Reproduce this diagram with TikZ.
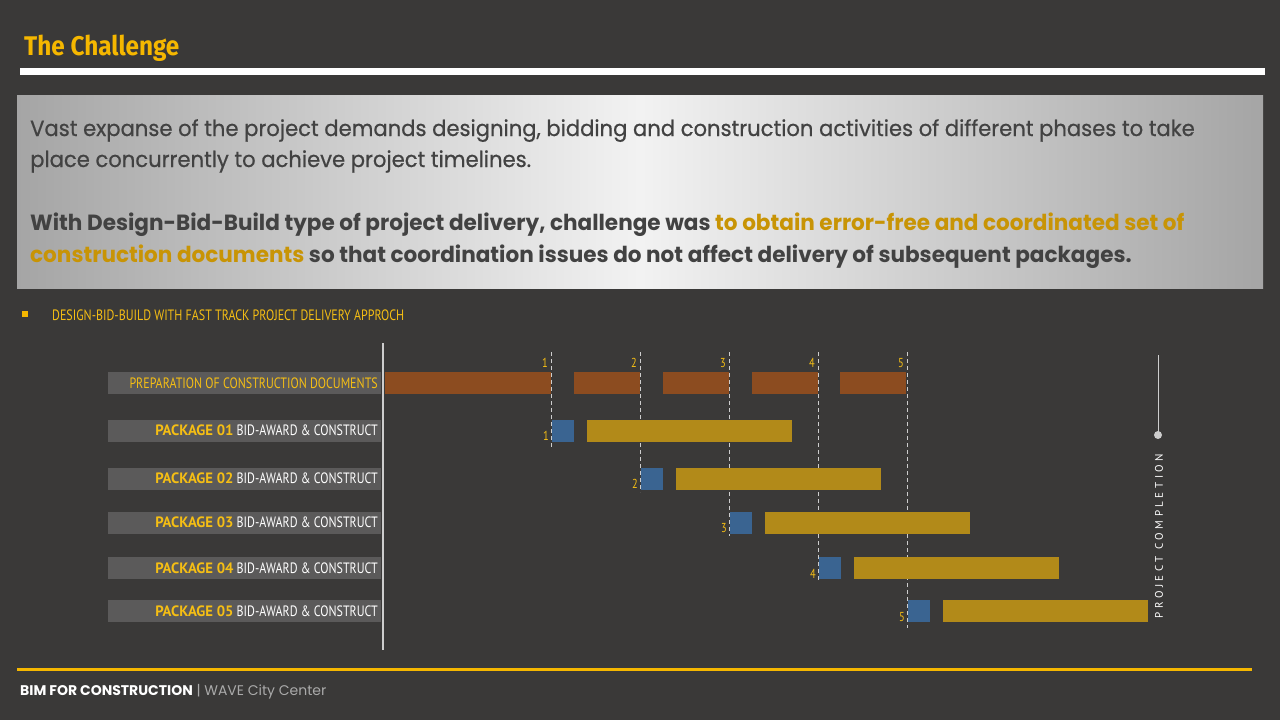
\documentclass[tikz,border=0pt]{standalone}
\usepackage{fontspec}
\setmainfont{Poppins}
\newfontfamily\titlefont[FakeStretch=0.9]{Fira Sans}
\newfontfamily\bodyfont[FakeStretch=0.96,FakeBold=0.6]{Poppins}
\newfontfamily\bodybold[FakeStretch=0.98]{Poppins}
\newfontfamily\condfont[FakeStretch=0.8]{PT Sans}
\newfontfamily\condbold[FakeStretch=0.98]{PT Sans}
\newfontfamily\spacedfont[LetterSpace=32]{PT Sans}
\newfontfamily\footfont{Poppins}
\definecolor{bg}{RGB}{58,57,56}
\definecolor{accent}{RGB}{245,183,0}
\definecolor{labelbox}{RGB}{91,90,90}
\definecolor{labeltxt}{RGB}{245,190,20}
\definecolor{docbar}{RGB}{140,76,32}
\definecolor{bidbar}{RGB}{58,100,145}
\definecolor{buildbar}{RGB}{178,138,25}
\definecolor{guide}{RGB}{205,205,205}
\definecolor{boxedge}{RGB}{165,165,165}
\definecolor{boxmid}{RGB}{242,242,242}
\definecolor{bodytxt}{RGB}{66,66,66}
\definecolor{hilite}{RGB}{200,148,5}
\definecolor{footgray}{RGB}{170,170,170}
\tikzset{
  rowlabel/.style={fill=labelbox, inner sep=0pt, minimum width=273pt, minimum height=22pt},
  labeltext/.style={anchor=east, inner sep=0pt, font=\condfont\fontsize{15}{15}\selectfont},
  docseg/.style={fill=docbar},
  bidseg/.style={fill=bidbar},
  buildseg/.style={fill=buildbar},
  guideline/.style={draw=guide, dash pattern=on 4pt off 3pt, line width=0.8pt},
  ticknum/.style={anchor=base east, inner sep=0pt, text=labeltxt, font=\condfont\fontsize{13}{13}\selectfont},
  paratext/.style={anchor=base west, inner sep=0pt, text=bodytxt, font=\bodyfont\fontsize{22}{22}\selectfont},
  paraboldtext/.style={paratext, font=\bodybold\bfseries\fontsize{22}{22}\selectfont},
}
\begin{document}
\begin{tikzpicture}[x=1pt,y=-1pt]
\useasboundingbox (0,0) rectangle (1280,720);
\fill[bg] (0,0) rectangle (1280,720);

% heading and rule
\node[anchor=base west, inner sep=0pt, text=accent, font=\titlefont\bfseries\fontsize{27}{27}\selectfont] (title) at (24,55) {The Challenge};
\fill[white] (20,68) rectangle (1265,75);

% statement panel
\shade[left color=boxedge, right color=boxedge, middle color=boxmid] (17,95) rectangle (1263,288);
\node[paratext] (p1a) at (30,136) {Vast expanse of the project demands designing, bidding and construction activities of different phases to take};
\node[paratext] (p1b) at (30,167) {place concurrently to achieve project timelines.};
\node[paraboldtext] (p2a) at (30,230) {With Design-Bid-Build type of project delivery, challenge was \textcolor{hilite}{to obtain error-free and coordinated set of}};
\node[paraboldtext] (p2b) at (30,262) {\textcolor{hilite}{construction documents} so that coordination issues do not affect delivery of subsequent packages.};

% bullet heading
\fill[accent] (22,311) rectangle (28,317);
\node[anchor=base west, inner sep=0pt, text=labeltxt, font=\condfont\fontsize{15}{15}\selectfont] (sub) at (52,320) {DESIGN-BID-BUILD WITH FAST TRACK PROJECT DELIVERY APPROCH};

% row labels
\node[rowlabel] (r0) at (244.5,382.5) {};
\node[labeltext, text=labeltxt] (t0) at (378,383) {PREPARATION OF CONSTRUCTION DOCUMENTS};
\foreach \i/\y in {1/430.5,2/478.5,3/522.5,4/568,5/611}{
  \node[rowlabel] (r\i) at (244.5,\y) {};
  \node[labeltext] (t\i) at (378,\y) {\textcolor{labeltxt}{\condbold\bfseries PACKAGE 0\i}\ \textcolor{white}{BID-AWARD \& CONSTRUCT}};
}

% time axis
\draw[guide, line width=2.5pt] (383,343) -- (383,650);

% guide lines with their milestone numbers
\foreach \i/\x/\yb in {1/551/448,2/640/492,3/729/536,4/818/582,5/907/628}{
  \draw[guideline] (\x,352) -- (\x,\yb);
  \node[ticknum] (top\i) at (\x-3,367) {\i};
}

% document preparation segments
\fill[docseg] (385,372) rectangle (551,394);
\foreach \a/\b in {574/640,663/729,752/818,840/906}{
  \fill[docseg] (\a,372) rectangle (\b,394);
}

% bid-award and construction segments per package
\foreach \i/\x/\y in {1/552/430.5,2/641/478.5,3/730/522.5,4/819/568,5/908/611}{
  \fill[bidseg] (\x,\y-11) rectangle (\x+22,\y+11);
  \fill[buildseg] (\x+35,\y-11) rectangle (\x+240,\y+11);
  \node[ticknum] (n\i) at (\x-3,\y+10) {\i};
}

% completion marker
\draw[guide, line width=1pt] (1158,355) -- (1158,434);
\fill[guide] (1158,435) circle (4);
\node[rotate=90, anchor=center, inner sep=0pt, text=white, font=\spacedfont\fontsize{11}{11}\selectfont] (done) at (1159,536) {PROJECT COMPLETION};

% footer
\fill[accent] (17,668) rectangle (1252,671);
\node[anchor=base west, inner sep=0pt, font=\footfont\fontsize{14}{14}\selectfont] (foot) at (20,695) {\textcolor{white}{\bfseries BIM FOR CONSTRUCTION} \textcolor{footgray}{| WAVE City Center}};
\end{tikzpicture}
\end{document}
